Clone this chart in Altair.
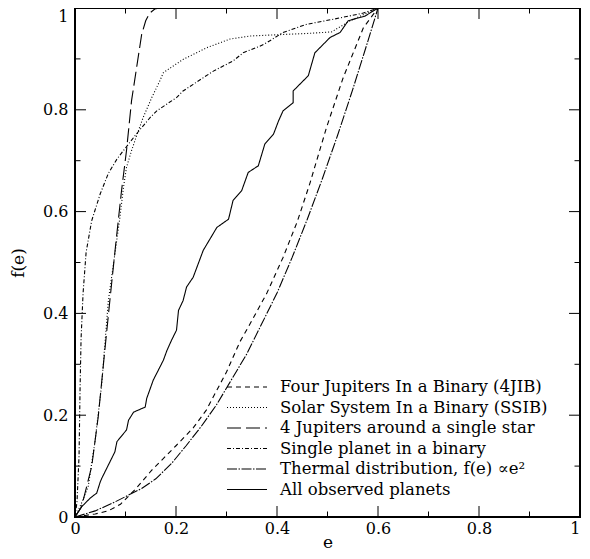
import altair as alt
import pandas as pd

series_names = [
    "Four Jupiters In a Binary (4JIB)",
    "Solar System In a Binary (SSIB)",
    "4 Jupiters around a single star",
    "Single planet in a binary",
    "Thermal distribution, f(e) \u221de\u00b2",
    "All observed planets",
]

e_4jib = [0, 0.02, 0.04, 0.066, 0.09, 0.12, 0.152, 0.178, 0.2, 0.234, 0.26, 0.3, 0.327, 0.347, 0.38, 0.412, 0.44, 0.465, 0.498, 0.531, 0.571, 0.6, 1.0]
f_4jib = [0, 0.003, 0.006, 0.012, 0.025, 0.055, 0.092, 0.118, 0.14, 0.175, 0.21, 0.285, 0.345, 0.38, 0.44, 0.51, 0.58, 0.655, 0.765, 0.863, 0.961, 1.0, 1.0]

e_ssib = [0, 0.012, 0.026, 0.04, 0.053, 0.066, 0.078, 0.089, 0.096, 0.102, 0.112, 0.122, 0.135, 0.152, 0.168, 0.175, 0.214, 0.261, 0.307, 0.347, 0.412, 0.46, 0.508, 0.545, 0.578, 0.6, 1.0]
f_ssib = [0, 0.025, 0.059, 0.151, 0.262, 0.425, 0.51, 0.589, 0.648, 0.687, 0.72, 0.749, 0.785, 0.824, 0.857, 0.873, 0.899, 0.922, 0.939, 0.945, 0.948, 0.95, 0.953, 0.975, 0.99, 1.0, 1.0]

e_single_star = [0, 0.013, 0.033, 0.046, 0.059, 0.069, 0.08, 0.092, 0.102, 0.112, 0.122, 0.132, 0.14, 0.148, 0.158, 0.168, 1.0]
f_single_star = [0, 0.02, 0.099, 0.197, 0.327, 0.425, 0.53, 0.64, 0.72, 0.818, 0.883, 0.948, 0.975, 0.99, 0.998, 1.0, 1.0]

e_single_planet = [0, 0.004, 0.008, 0.01, 0.012, 0.016, 0.022, 0.033, 0.05, 0.066, 0.083, 0.096, 0.122, 0.149, 0.162, 0.201, 0.214, 0.234, 0.274, 0.313, 0.333, 0.366, 0.38, 0.412, 0.459, 0.512, 0.571, 0.6, 1.0]
f_single_planet = [0, 0.03, 0.12, 0.25, 0.35, 0.44, 0.52, 0.582, 0.635, 0.675, 0.703, 0.72, 0.753, 0.785, 0.798, 0.824, 0.837, 0.85, 0.876, 0.896, 0.912, 0.925, 0.932, 0.952, 0.968, 0.978, 0.99, 1.0, 1.0]

e_thermal = [0, 0.04, 0.08, 0.106, 0.132, 0.16, 0.191, 0.22, 0.25, 0.28, 0.307, 0.34, 0.37, 0.4, 0.43, 0.46, 0.49, 0.52, 0.55, 0.58, 0.6, 1.0]
f_thermal = [0, 0.012, 0.03, 0.043, 0.056, 0.075, 0.105, 0.14, 0.178, 0.22, 0.265, 0.32, 0.38, 0.44, 0.51, 0.585, 0.665, 0.75, 0.84, 0.935, 1.0, 1.0]

e_observed = [0, 0.013, 0.03, 0.043, 0.05, 0.053, 0.066, 0.079, 0.083, 0.102, 0.106, 0.116, 0.139, 0.142, 0.155, 0.175, 0.182, 0.191, 0.201, 0.205, 0.214, 0.221, 0.234, 0.254, 0.281, 0.304, 0.313, 0.33, 0.343, 0.363, 0.376, 0.393, 0.403, 0.412, 0.432, 0.432, 0.462, 0.475, 0.505, 0.525, 0.541, 0.574, 0.6, 1.0]
f_observed = [0, 0.02, 0.037, 0.047, 0.069, 0.076, 0.102, 0.128, 0.148, 0.171, 0.19, 0.206, 0.216, 0.233, 0.269, 0.308, 0.327, 0.347, 0.367, 0.406, 0.425, 0.452, 0.471, 0.524, 0.569, 0.585, 0.622, 0.641, 0.677, 0.69, 0.733, 0.752, 0.778, 0.798, 0.814, 0.837, 0.867, 0.912, 0.942, 0.952, 0.975, 0.984, 1.0, 1.0]

tick_labels = [0, 0.2, 0.4, 0.6, 0.8, 1]
major_ticks = [0.2, 0.4, 0.6, 0.8]
minor_ticks = [0.1, 0.3, 0.5, 0.7, 0.9]

dashes = [[5, 4], [1, 2], [14, 5], [4, 2, 1, 2], [10, 1.5, 1.5, 1.5], [1, 0]]
widths = [1.1, 1.1, 1.5, 1.1, 1.9, 1.1]

all_e = [e_4jib, e_ssib, e_single_star, e_single_planet, e_thermal, e_observed]
all_f = [f_4jib, f_ssib, f_single_star, f_single_planet, f_thermal, f_observed]

rows = []
for name, es, fs in zip(series_names, all_e, all_f):
    for i, (e, f) in enumerate(zip(es, fs)):
        rows.append({"series": name, "e": e, "f": f, "i": i})
df = pd.DataFrame(rows)

FONT = "DejaVu Serif"
W, H = 505, 509

xscale = alt.Scale(domain=[0, 1], nice=False, zero=False)
yscale = alt.Scale(domain=[0, 1], nice=False, zero=False)

xaxis = alt.Axis(values=tick_labels, format="~g", title="e", ticks=False, domain=False,
                 grid=False, labelFont=FONT, labelFontSize=16, labelPadding=3,
                 labelColor="black", titleFont=FONT, titleFontSize=17,
                 titleFontWeight="normal", titleColor="black",
                 titleBaseline="bottom", titleY=34,
                 labelFlush=False,
                 labelAlign={"condition": {"test": "datum.value == 1", "value": "right"}, "value": "center"})
yaxis = alt.Axis(values=tick_labels, format="~g", title="f(e)", ticks=False, domain=False,
                 grid=False, labelFont=FONT, labelFontSize=16, labelPadding=7,
                 labelColor="black", titleFont=FONT, titleFontSize=17,
                 titleFontWeight="normal", titleColor="black", titlePadding=15,
                 labelFlush=False,
                 labelBaseline={"condition": {"test": "datum.value == 1", "value": "top"}, "value": "middle"})

lines = alt.Chart(df).mark_line(color="black", clip=True).encode(
    x=alt.X("e:Q", scale=xscale, axis=xaxis),
    y=alt.Y("f:Q", scale=yscale, axis=yaxis),
    strokeDash=alt.StrokeDash(
        "series:N",
        scale=alt.Scale(domain=series_names, range=dashes),
        legend=alt.Legend(title=None, orient="none", legendX=151, legendY=369,
                          symbolType="stroke", symbolSize=1600, clipHeight=20, rowPadding=0.5,
                          labelFont=FONT, labelFontSize=16.5, labelOffset=12, labelLimit=400,
                          labelColor="black", symbolStrokeColor="black", symbolStrokeWidth=1,
                          padding=0),
    ),
    strokeWidth=alt.StrokeWidth("series:N", scale=alt.Scale(domain=series_names, range=widths), legend=None),
    order="i:Q",
)


def rule_layer(values, L, side):
    if side in ("bottom", "top"):
        d = pd.DataFrame({"e": values})
        base = alt.Chart(d).mark_rule(color="black", strokeWidth=1)
        if side == "bottom":
            return base.encode(x=alt.X("e:Q", scale=xscale, axis=xaxis), y=alt.value(H), y2=alt.value(H - L))
        return base.encode(x=alt.X("e:Q", scale=xscale, axis=xaxis), y=alt.value(0), y2=alt.value(L))
    d = pd.DataFrame({"f": values})
    base = alt.Chart(d).mark_rule(color="black", strokeWidth=1)
    if side == "left":
        return base.encode(y=alt.Y("f:Q", scale=yscale, axis=yaxis), x=alt.value(0), x2=alt.value(L))
    return base.encode(y=alt.Y("f:Q", scale=yscale, axis=yaxis), x=alt.value(W), x2=alt.value(W - L))


tick_layers = []
for side in ["bottom", "top", "left", "right"]:
    tick_layers.append(rule_layer(major_ticks, 11, side))
    tick_layers.append(rule_layer(minor_ticks, 5.5, side))

chart = alt.layer(lines, *tick_layers).properties(
    width=W, height=H,
    autosize=alt.AutoSizeParams(type="none"),
    padding={"left": 67, "top": 0, "right": 2, "bottom": 34},
    background="white",
).configure_view(stroke="black", strokeWidth=2)

chart.save("out.html", embed_options={"renderer": "svg", "actions": False})
